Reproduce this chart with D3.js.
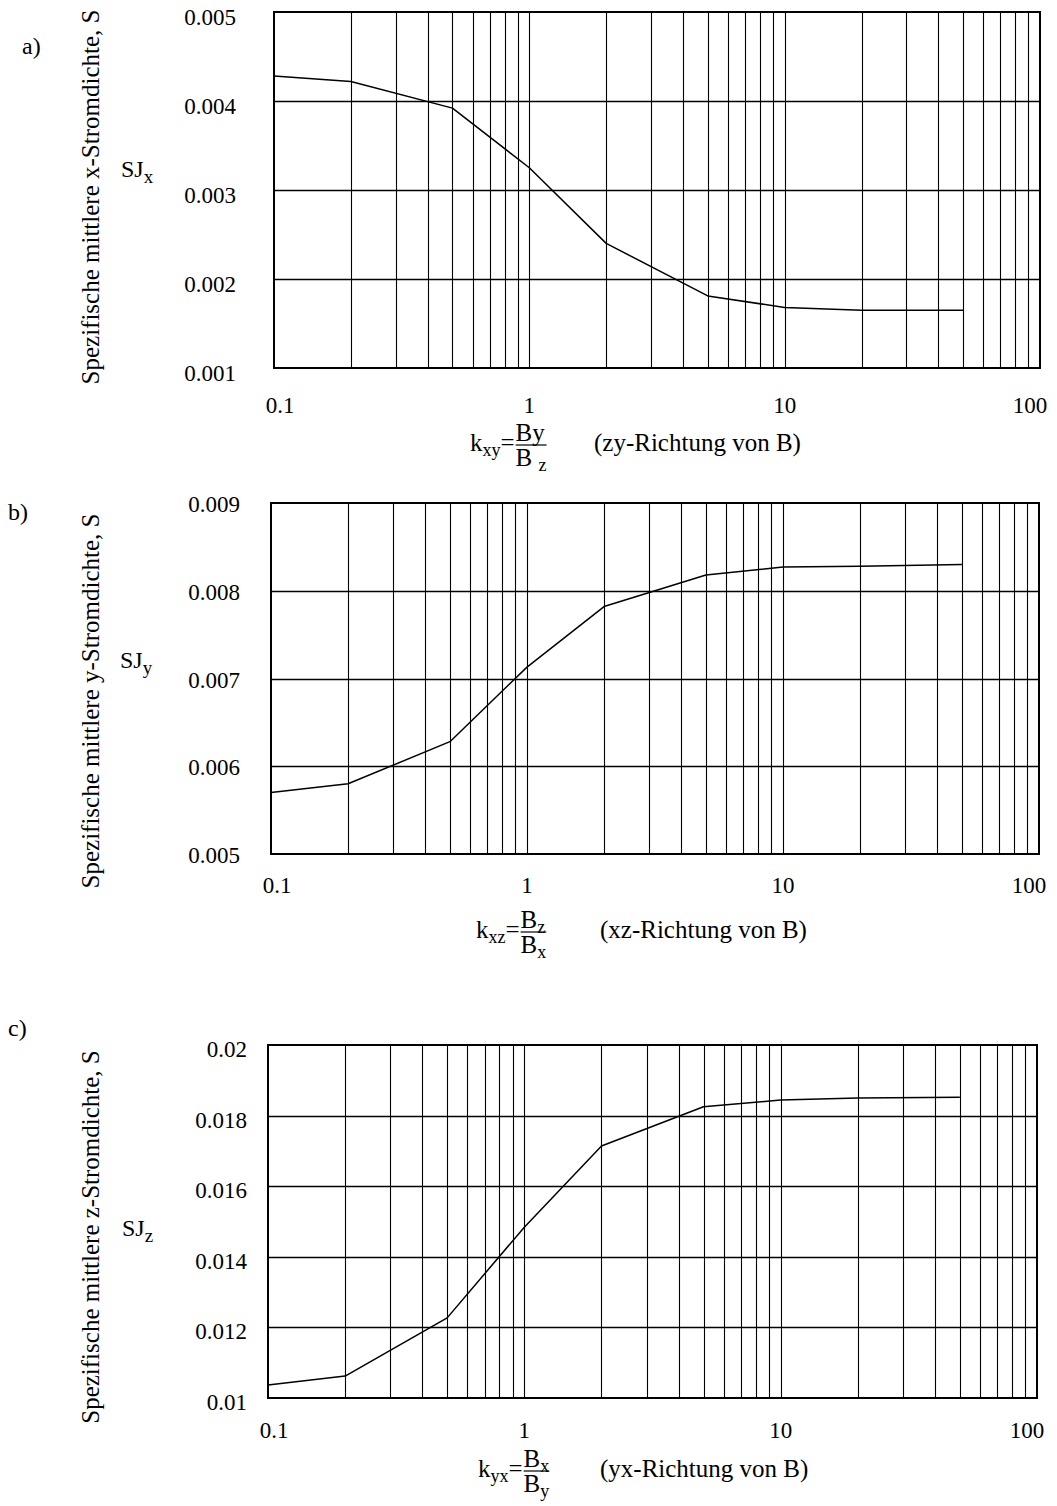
<!DOCTYPE html>
<html><head><meta charset="utf-8">
<script src="https://cdn.jsdelivr.net/npm/d3@7"></script>
<style>
body{margin:0;background:#fff}
svg{display:block;background:#fff}
text{font-family:"Liberation Serif","Times New Roman",serif;fill:#000}
</style>
</head><body>
<svg id="chart" width="1057" height="1506"></svg>
<script>
// ---------- data ----------
const kValues   = [0.1, 0.2, 0.5, 1, 2, 5, 10, 20, 50];
const sjxValues = [0.00428, 0.00422, 0.00392, 0.00325, 0.00240, 0.00181, 0.00168, 0.00165, 0.00165];
const sjyValues = [0.00570, 0.00580, 0.00628, 0.00713, 0.00782, 0.00818, 0.00827, 0.00828, 0.00830];
const sjzValues = [0.01037, 0.01062, 0.01227, 0.01484, 0.01714, 0.01825, 0.01844, 0.01850, 0.01852];

const xTickValues = [0.1, 1, 10, 100];
const xTickLabels = ["0.1", "1", "10", "100"];

const yTicksA  = [0.001, 0.002, 0.003, 0.004, 0.005];
const yLabelsA = ["0.001", "0.002", "0.003", "0.004", "0.005"];
const yTicksB  = [0.005, 0.006, 0.007, 0.008, 0.009];
const yLabelsB = ["0.005", "0.006", "0.007", "0.008", "0.009"];
const yTicksC  = [0.01, 0.012, 0.014, 0.016, 0.018, 0.02];
const yLabelsC = ["0.01", "0.012", "0.014", "0.016", "0.018", "0.02"];

const xDomain = [0.1, 100];

const panels = [
  { letter: "a)", values: sjxValues, yTicks: yTicksA, yLabels: yLabelsA,
    title: "Spezifische mittlere x-Stromdichte, S", sjSub: "x",
    kSub: "xy", num: ["By", ""], den: ["B ", "z"], dir: "(zy-Richtung von B)",
    L: {left: 274, right: 1040, top: 12, bottom: 368, yLabelX: 236, yLabelDy: 13,
        xLabelY: 413, letterX: 22, letterY: 54, titleX: 99, titleY: 197,
        sjX: 121, sjY: 177, fx: 470, fy: 451, px: 594} },
  { letter: "b)", values: sjyValues, yTicks: yTicksB, yLabels: yLabelsB,
    title: "Spezifische mittlere y-Stromdichte, S", sjSub: "y",
    kSub: "xz", num: ["B", "z"], den: ["B", "x"], dir: "(xz-Richtung von B)",
    L: {left: 271, right: 1039, top: 503, bottom: 854, yLabelX: 240, yLabelDy: 9,
        xLabelY: 893, letterX: 8, letterY: 520, titleX: 99, titleY: 701,
        sjX: 120, sjY: 668, fx: 476, fy: 938, px: 600} },
  { letter: "c)", values: sjzValues, yTicks: yTicksC, yLabels: yLabelsC,
    title: "Spezifische mittlere z-Stromdichte, S", sjSub: "z",
    kSub: "yx", num: ["B", "x"], den: ["B", "y"], dir: "(yx-Richtung von B)",
    L: {left: 268, right: 1037, top: 1045, bottom: 1398, yLabelX: 247, yLabelDy: 12,
        xLabelY: 1438, letterX: 8, letterY: 1036, titleX: 99, titleY: 1237,
        sjX: 122, sjY: 1236, fx: 478, fy: 1477, px: 600} }
];

const svg = d3.select("#chart");

function drawPanel(p) {
  const L = p.L;
  const g = svg.append("g");
  const x = d3.scaleLog().domain(xDomain).range([L.left, L.right]);
  const y = d3.scaleLinear().domain(d3.extent(p.yTicks)).range([L.bottom, L.top]);

  // vertical grid (log minor + major)
  const vt = x.ticks().filter(v => v > xDomain[0] && v < xDomain[1]);
  g.append("g").selectAll("line").data(vt).join("line")
    .attr("x1", d => Math.round(x(d)) + 0.5).attr("x2", d => Math.round(x(d)) + 0.5)
    .attr("y1", L.top).attr("y2", L.bottom)
    .attr("stroke", "#000").attr("stroke-width", 1.1);

  // horizontal grid
  const ht = p.yTicks.slice(1, -1);
  g.append("g").selectAll("line").data(ht).join("line")
    .attr("x1", L.left).attr("x2", L.right)
    .attr("y1", d => Math.round(y(d)) + 0.5).attr("y2", d => Math.round(y(d)) + 0.5)
    .attr("stroke", "#000").attr("stroke-width", 1.4);

  // frame
  g.append("rect").attr("x", L.left).attr("y", L.top)
    .attr("width", L.right - L.left).attr("height", L.bottom - L.top)
    .attr("fill", "none").attr("stroke", "#000").attr("stroke-width", 2);

  // curve
  const line = d3.line().x((d, i) => x(kValues[i])).y(d => y(d));
  g.append("path").datum(p.values).attr("d", line)
    .attr("fill", "none").attr("stroke", "#000").attr("stroke-width", 1.5)
    .attr("stroke-linejoin", "round");

  // y tick labels
  g.append("g").selectAll("text").data(p.yTicks).join("text")
    .attr("x", L.yLabelX).attr("y", d => y(d) + L.yLabelDy)
    .attr("text-anchor", "end").style("font-size", "23px")
    .text((d, i) => p.yLabels[i]);

  // x tick labels
  g.append("g").selectAll("text").data(xTickValues).join("text")
    .attr("x", (d, i) => x(d) + (i === 0 ? 6 : (i === xTickValues.length - 1 ? -10 : 0)))
    .attr("y", L.xLabelY)
    .attr("text-anchor", "middle").style("font-size", "23px")
    .text((d, i) => xTickLabels[i]);

  // panel letter
  g.append("text").attr("x", L.letterX).attr("y", L.letterY)
    .style("font-size", "24px").text(p.letter);

  // rotated y title
  g.append("text").attr("transform", `translate(${L.titleX},${L.titleY}) rotate(-90)`)
    .attr("text-anchor", "middle").style("font-size", "25px").text(p.title);

  // SJ label
  const sj = g.append("text").attr("x", L.sjX).attr("y", L.sjY).style("font-size", "24px");
  sj.append("tspan").text("SJ");
  sj.append("tspan").attr("dy", 6).style("font-size", "19px").text(p.sjSub);

  // x-axis formula
  const fy = L.fy;
  const k = g.append("text").attr("x", L.fx).attr("y", fy).style("font-size", "25px");
  k.append("tspan").text("k");
  k.append("tspan").attr("dy", 5).style("font-size", "18px").text(p.kSub);
  k.append("tspan").attr("dy", -5).text("=");
  const fStart = L.fx + k.node().getComputedTextLength() + 1;

  function part(parts, baseline) {
    const t = g.append("text").attr("x", fStart).attr("y", baseline).style("font-size", "25px");
    t.append("tspan").text(parts[0]);
    if (parts[1]) t.append("tspan").attr("dy", 5).style("font-size", "18px").text(parts[1]);
    return t.node().getComputedTextLength();
  }
  const wN = part(p.num, fy - 10);
  const wD = part(p.den, fy + 15);
  const fw = Math.max(wN, wD);
  g.append("line").attr("x1", fStart).attr("x2", fStart + fw)
    .attr("y1", fy - 6).attr("y2", fy - 6).attr("stroke", "#000").attr("stroke-width", 1.2);

  g.append("text").attr("x", L.px).attr("y", fy)
    .style("font-size", "25px").text(p.dir);
}

panels.forEach(drawPanel);
</script>
</body></html>
